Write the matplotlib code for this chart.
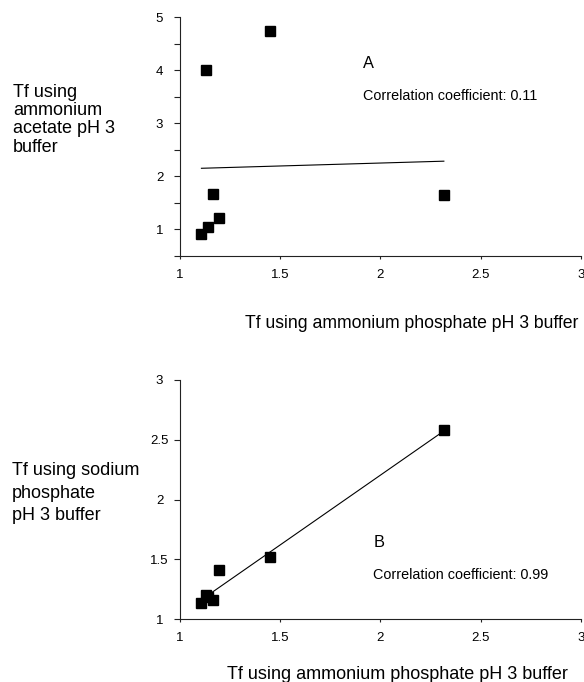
import numpy as np
import matplotlib
matplotlib.use("Agg")
import matplotlib.pyplot as plt

plt.rcParams['font.family'] = ['Liberation Sans', 'DejaVu Sans']

# ---- data ----
x_phosphate = [1.107, 1.13, 1.138, 1.167, 1.197, 1.447, 2.317]
y_acetate = [0.92, 4.0, 1.044, 1.675, 1.22, 4.74, 1.656]
y_sodium = [1.133, 1.2, 1.19, 1.158, 1.408, 1.522, 2.578]

x_ticks = [1, 1.5, 2, 2.5, 3]
x_ticklabels = ['1', '1.5', '2', '2.5', '3']
yA_ticks = [0.5, 1, 1.5, 2, 2.5, 3, 3.5, 4, 4.5, 5]
yA_ticklabels = ['', '1', '', '2', '', '3', '', '4', '', '5']
yB_ticks = [1, 1.5, 2, 2.5, 3]
yB_ticklabels = ['1', '1.5', '2', '2.5', '3']

xlabel_text = 'Tf using ammonium phosphate pH 3 buffer'
ylabelA_lines = ['Tf using', 'ammonium', 'acetate pH 3', 'buffer']
ylabelB_lines = ['Tf using sodium', 'phosphate', 'pH 3 buffer']
corrA = 'Correlation coefficient: 0.11'
corrB = 'Correlation coefficient: 0.99'

W, H = 584, 682
fig = plt.figure(figsize=(W / 100, H / 100), dpi=100)


def fx(px):
    return px / W


def fy(py):
    return 1 - py / H


def make_axes(top, bottom):
    left, right = 180, 580.7
    ax = fig.add_axes([fx(left), fy(bottom), (right - left) / W, (bottom - top) / H])
    for s in ['top', 'right']:
        ax.spines[s].set_visible(False)
    for s in ['left', 'bottom']:
        ax.spines[s].set_linewidth(0.8)
        ax.spines[s].set_color('#222222')
    ax.tick_params(axis='y', direction='out', length=4.3, width=0.8, pad=10.4,
                   labelsize=9.5, color='#222222')
    ax.tick_params(axis='x', direction='out', length=2.2, width=0.8, pad=7.3,
                   labelsize=9.5, color='#222222')
    ax.set_facecolor('none')
    return ax


def scatter_fit(ax, x, y):
    ax.plot(x, y, linestyle='none', marker='s', markersize=7, color='black', zorder=3, clip_on=False)
    xa = np.asarray(x)
    ya = np.asarray(y)
    m, b = np.polyfit(xa, ya, 1)
    xs = np.array([xa.min(), xa.max()])
    ax.plot(xs, m * xs + b, color='black', linewidth=0.8, zorder=2)


def finish(ax, yticks, yticklabels, ylim):
    ax.set_xlim(1, 3)
    ax.set_ylim(*ylim)
    ax.set_xticks(x_ticks)
    ax.set_xticklabels(x_ticklabels)
    ax.set_yticks(yticks)
    ax.set_yticklabels(yticklabels)
    for lbl in ax.get_yticklabels():
        lbl.set_horizontalalignment('center')


# ---- Panel A ----
axA = make_axes(17, 256)
scatter_fit(axA, x_phosphate, y_acetate)
finish(axA, yA_ticks, yA_ticklabels, (0.5, 5))

# ---- Panel B ----
axB = make_axes(380, 619.3)
scatter_fit(axB, x_phosphate, y_sodium)
finish(axB, yB_ticks, yB_ticklabels, (1, 3))

# ---- texts ----
fig.text(fx(578), fy(328.3), xlabel_text, ha='right', va='baseline', fontsize=12.7)
fig.text(fx(568), fy(679), xlabel_text, ha='right', va='baseline', fontsize=13)

for i, line in enumerate(ylabelA_lines):
    fig.text(fx(13), fy(96.7 + 18.3 * i), line, ha='left', va='baseline', fontsize=13)
for i, line in enumerate(ylabelB_lines):
    fig.text(fx(12), fy(475 + 22.5 * i), line, ha='left', va='baseline', fontsize=13)

fig.text(fx(363.3), fy(68.3), 'A', ha='left', va='baseline', fontsize=11.8)
fig.text(fx(363.3), fy(100), corrA, ha='left', va='baseline', fontsize=10.4)
fig.text(fx(373.3), fy(546.7), 'B', ha='left', va='baseline', fontsize=11.8)
fig.text(fx(372.7), fy(579), corrB, ha='left', va='baseline', fontsize=10.4)

fig.savefig('out.png', dpi=100, facecolor='white')
